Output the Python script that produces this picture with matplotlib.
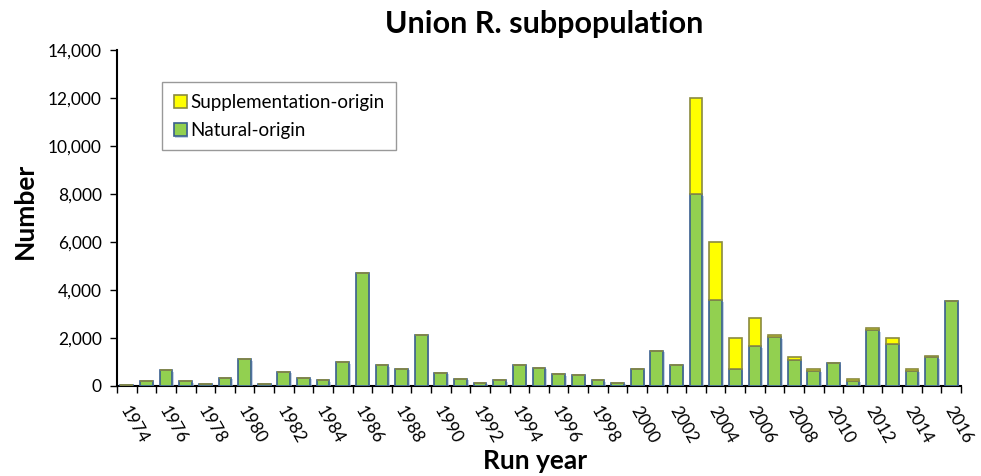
import matplotlib
matplotlib.use("Agg")
import matplotlib.pyplot as plt
from matplotlib.ticker import FuncFormatter, MultipleLocator
from matplotlib.transforms import ScaledTranslation
import matplotlib.patheffects as pe
import numpy as np

years = list(range(1974, 2017))
natural = [40, 200, 650, 200, 100, 350, 1120, 100, 600, 350, 250, 1000, 4700, 860, 720,
           2140, 550, 310, 140, 250, 860, 760, 500, 450, 250, 140, 700, 1470, 860,
           7980, 3580, 700, 1670, 2030, 1100, 640, 960, 225, 2330, 1770, 640, 1200, 3530]
supplementation = [0]*29 + [4020, 2420, 1290, 1180, 110, 125, 60, 0, 85, 70, 220, 80, 70, 0]

plt.rcParams['font.family'] = ['Lato', 'DejaVu Sans']

fig = plt.figure(figsize=(9.81, 4.76), dpi=100)
L, R, T, B = 117, 961, 50, 386
ax = fig.add_axes([L/981, 1-B/476, (R-L)/981, (B-T)/476])

x = np.arange(len(years))
w = 0.65
shadow = [pe.SimplePatchShadow(offset=(1.2, -1.2), shadow_rgbFace='#9DB4D6', alpha=0.6), pe.Normal()]
ax.bar(x, natural, width=w, color='#92D050', edgecolor='#3A5F8F', linewidth=1.2,
       label='Natural-origin', zorder=3, path_effects=shadow)
ax.bar(x, supplementation, bottom=natural, width=w, color='#FFFF00', edgecolor='#8A8A40',
       linewidth=1.2, label='Supplementation-origin', zorder=3)

ax.set_xlim(-0.5, len(years)-0.5)
ax.set_ylim(0, 14000)
ax.yaxis.set_major_locator(MultipleLocator(2000))
ax.yaxis.set_major_formatter(FuncFormatter(lambda v, p: f"{int(v):,}"))

ax.set_xticks(np.arange(-0.5, len(years), 1.0))
ax.set_xticklabels([])
ax.tick_params(axis='x', which='major', direction='out', length=5, width=1, color='black')
ax.tick_params(axis='y', direction='out', length=5, width=1, labelsize=12.5, pad=6)

off = ScaledTranslation(-3/100, -22/100, fig.dpi_scale_trans)
for i, yr in enumerate(years):
    if (yr - 1974) % 2 == 0:
        ax.text(i, 0, str(yr), rotation=-60, ha='left', va='center',
                rotation_mode='anchor', fontsize=12.5,
                transform=ax.transData + off, clip_on=False)

for s in ['top', 'right']:
    ax.spines[s].set_visible(False)
ax.spines['left'].set_linewidth(1.5)
ax.spines['bottom'].set_linewidth(1.5)

fig.text(544/981, 1-24/476, 'Union R. subpopulation', ha='center', va='center',
         fontsize=22, fontweight='bold')
fig.text(25/981, 1-211/476, 'Number', ha='center', va='center', rotation=90,
         fontsize=19, fontweight='bold')
fig.text(535/981, 1-461/476, 'Run year', ha='center', va='center', fontsize=19, fontweight='bold')

handles, labels = ax.get_legend_handles_labels()
leg = ax.legend(handles[::-1], labels[::-1], loc='upper left',
                bbox_to_anchor=((153-L)/(R-L), (B-73)/(B-T)),
                frameon=True, fancybox=False, edgecolor='#808080', fontsize=13.5,
                handlelength=0.7, handleheight=0.7, handletextpad=0.2, labelspacing=0.6,
                borderpad=0.6)
leg.get_frame().set_linewidth(1)

fig.savefig('out.png', dpi=100)
